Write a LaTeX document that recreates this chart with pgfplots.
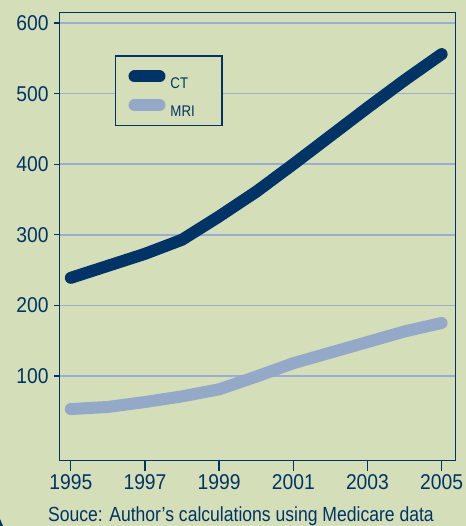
\documentclass[border=0pt]{standalone}
\usepackage{pgfplots}
\pgfplotsset{compat=1.18}
\usepackage{fontspec}
\setmainfont{Liberation Sans}
\newfontfamily\tickfont[FakeStretch=0.9]{Liberation Sans}
\newfontfamily\condfont[FakeStretch=0.86]{Liberation Sans}
\definecolor{bg}{HTML}{D4DEB9}
\definecolor{navy}{HTML}{003366}
\definecolor{mri}{HTML}{94A8C8}
\definecolor{gridc}{HTML}{9CADCF}

\begin{document}
\begin{tikzpicture}
\fill[bg] (0,0) rectangle (466bp,526bp);
\fill[navy] (0,0) -- (0,7bp) .. controls (0.8bp,3bp) .. (3bp,0) -- cycle;
\useasboundingbox (0,0) rectangle (466bp,526bp);
\begin{axis}[
  at={(59.7bp,65.7bp)}, anchor=south west,
  width=396bp, height=447.8bp, scale only axis,
  xmin=1994.7, xmax=2005.38, ymin=-19.6, ymax=615,
  xtick={1995,1997,...,2005}, ytick={100,200,...,600},
  axis line style={navy, line width=1.3bp},
  tick style={navy, line width=1.3bp},
  tick align=outside, xtick pos=left, ytick pos=left,
  major tick length=10.7bp,
  y tick style={dash pattern=on 0bp off 5bp on 5.7bp off 30bp},
  yticklabel style={xshift=3bp},
  /pgf/number format/assume math mode=true,
  /pgf/number format/1000 sep={},
  xticklabel={\tickfont\fontsize{21.5}{24}\selectfont\pgfmathprintnumber{\tick}},
  yticklabel={\tickfont\fontsize{21.5}{24}\selectfont\pgfmathprintnumber{\tick}},
  tick label style={text=navy},
  ymajorgrids, grid style={gridc, line width=1.6bp},
  legend style={at={(0.139,0.905)}, anchor=north west, fill=bg, draw=navy,
    line width=1.5bp, font=\condfont\fontsize{15.5}{18}\selectfont, text=navy,
    inner xsep=13bp, inner ysep=0bp, row sep=-14.3bp},
  legend cell align=left,
]
\addplot[navy, line width=12bp, line cap=round, line join=round,
  legend image code/.code={\path[draw=none, fill=none] (0bp,-34.8bp) rectangle (25bp,20.7bp);
    \draw[navy, line width=12bp, line cap=round] (0bp,0bp) -- (25bp,0bp);}] coordinates {
(1995,239)(1996,256)(1997,273)(1998,293)(1999,326)(2000,361)(2001,400)(2002,440)(2003,480)(2004,519)(2005,556)};
\addlegendentry{\hspace*{3bp}\raisebox{-7.3bp}[\height][\depth]{CT}}
\addplot[mri, line width=12bp, line cap=round, line join=round,
  legend image code/.code={\path[draw=none, fill=none] (0bp,-20.6bp) rectangle (25bp,6.5bp);
    \draw[mri, line width=12bp, line cap=round] (0bp,0bp) -- (25bp,0bp);}] coordinates {
(1995,53)(1996,56)(1997,63)(1998,71)(1999,81)(2000,99)(2001,118)(2002,133)(2003,148)(2004,163)(2005,175)};
\addlegendentry{\hspace*{3bp}\raisebox{-7.3bp}[\height][\depth]{MRI}\hspace*{12bp}}
\end{axis}
\node[anchor=base, text=navy, font=\condfont\fontsize{20.5}{24}\selectfont] at (241bp,4.3bp) {Souce: Author’s calculations using Medicare data};
\end{tikzpicture}
\end{document}
